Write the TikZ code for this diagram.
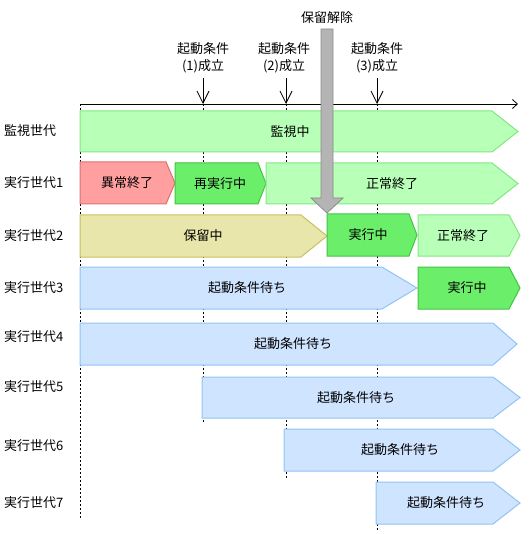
\documentclass[tikz,border=0pt]{standalone}
\usepackage{fontspec}
\setmainfont{Noto Sans CJK JP}
\usetikzlibrary{arrows.meta}
\definecolor{lgF}{HTML}{B8FFB8}\definecolor{lgD}{HTML}{80E880}
\definecolor{bgF}{HTML}{6BEF6B}\definecolor{bgD}{HTML}{44C444}
\definecolor{rdF}{HTML}{FF9F9F}\definecolor{rdD}{HTML}{E07070}
\definecolor{khF}{HTML}{E8E6AA}\definecolor{khD}{HTML}{C8C060}
\definecolor{blF}{HTML}{CFE4FF}\definecolor{blD}{HTML}{90C4F4}
\definecolor{gyF}{HTML}{B4B4B4}\definecolor{gyD}{HTML}{8C8C8C}
\tikzset{
  lbl/.style={inner sep=0pt,font=\fontsize{13}{15}\selectfont},
  rowlbl/.style={lbl,anchor=west},
  lightg/.style={fill=lgF,draw=lgD,line width=1pt},
  brightg/.style={fill=bgF,draw=bgD,line width=1pt},
  redbar/.style={fill=rdF,draw=rdD,line width=1pt},
  khbar/.style={fill=khF,draw=khD,line width=1pt},
  blbar/.style={fill=blF,draw=blD,line width=1pt},
  dotline/.style={black,line width=0.8pt,dash pattern=on 2pt off 2pt},
  downarr/.style={-{Straight Barb[length=12pt,width=12pt]},line width=0.8pt},
}
\newcommand\stbar[9]{%
  \draw[#1] (#3,#6) -- (#4,#6) -- (#5,{(#6+#7)/2}) -- (#4,#7) -- (#3,#7) -- cycle;
  \node[lbl] (#2) at (#8,{(#6+#7)/2}) {#9};}
\begin{document}
\begin{tikzpicture}[x=1pt,y=-1pt]
\useasboundingbox (0,0) rectangle (528,534);
% axis
\coordinate (ax0) at (80,104);
\coordinate (ax1) at (518,104);
\draw[line width=0.8pt,-{Straight Barb[length=5pt,width=9pt]}] (ax0) -- (ax1);
% dotted guides
\coordinate (d0a) at (80,104);  \coordinate (d0b) at (80,518);
\coordinate (d1a) at (203,104); \coordinate (d1b) at (203,423);
\coordinate (d2a) at (286,104); \coordinate (d2b) at (286,478);
\coordinate (d3a) at (377,104); \coordinate (d3b) at (377,530);
\draw[dotline] (d0a) -- (d0b);
\draw[dotline] (d1a) -- (d1b);
\draw[dotline] (d2a) -- (d2b);
\draw[dotline] (d3a) -- (d3b);
% condition labels
\node[lbl] (c1a) at (203,49) {起動条件};
\node[lbl] (c1b) at (203,66) {(1)成立};
\node[lbl] (c2a) at (284,49) {起動条件};
\node[lbl] (c2b) at (284,66) {(2)成立};
\node[lbl] (c3a) at (377,49) {起動条件};
\node[lbl] (c3b) at (377,66) {(3)成立};
\coordinate (a1s) at (203,78); \coordinate (a1e) at (203,104);
\coordinate (a2s) at (286,78); \coordinate (a2e) at (286,104);
\coordinate (a3s) at (377,78); \coordinate (a3e) at (377,104);
\draw[downarr] (a1s) -- (a1e);
\draw[downarr] (a2s) -- (a2e);
\draw[downarr] (a3s) -- (a3e);
% row labels
\node[rowlbl] (r0) at (4,131) {監視世代};
\node[rowlbl] (r1) at (4,183) {実行世代1};
\node[rowlbl] (r2) at (4,236) {実行世代2};
\node[rowlbl] (r3) at (4,288) {実行世代3};
\node[rowlbl] (r4) at (4,337) {実行世代4};
\node[rowlbl] (r5) at (4,387) {実行世代5};
\node[rowlbl] (r6) at (4,446) {実行世代6};
\node[rowlbl] (r7) at (4,503) {実行世代7};
% bars
\stbar{lightg}{b0}{80}{492}{518}{111}{152}{290}{監視中}
\stbar{redbar}{b1a}{80}{166}{175}{162}{204}{127}{異常終了}
\stbar{brightg}{b1b}{175}{258}{266}{163}{204}{220}{再実行中}
\stbar{lightg}{b1c}{266}{492}{518}{163}{204}{392}{正常終了}
\stbar{khbar}{b2a}{80}{301}{327}{215}{257}{203}{保留中}
\stbar{brightg}{b2b}{327}{409}{417}{214}{256}{368}{実行中}
\stbar{lightg}{b2c}{418}{509}{520}{215}{256}{463}{正常終了}
\stbar{blbar}{b3a}{80}{382}{417}{267}{309}{247}{起動条件待ち}
\stbar{brightg}{b3b}{418}{509}{520}{267}{309}{467}{実行中}
\stbar{blbar}{b4}{80}{493}{517}{323}{365}{293}{起動条件待ち}
\stbar{blbar}{b5}{202}{493}{520}{377}{418}{356}{起動条件待ち}
\stbar{blbar}{b6}{284}{493}{520}{429}{471}{400}{起動条件待ち}
\stbar{blbar}{b7}{376}{493}{520}{482}{524}{446}{起動条件待ち}
% release arrow
\node[lbl] (rel) at (327,18) {保留解除};
\draw[fill=gyF,draw=gyD,line width=0.8pt] (321,29) -- (333,29) -- (333,198) -- (343,198) -- (327,213) -- (311,198) -- (321,198) -- cycle;
\end{tikzpicture}
\end{document}
